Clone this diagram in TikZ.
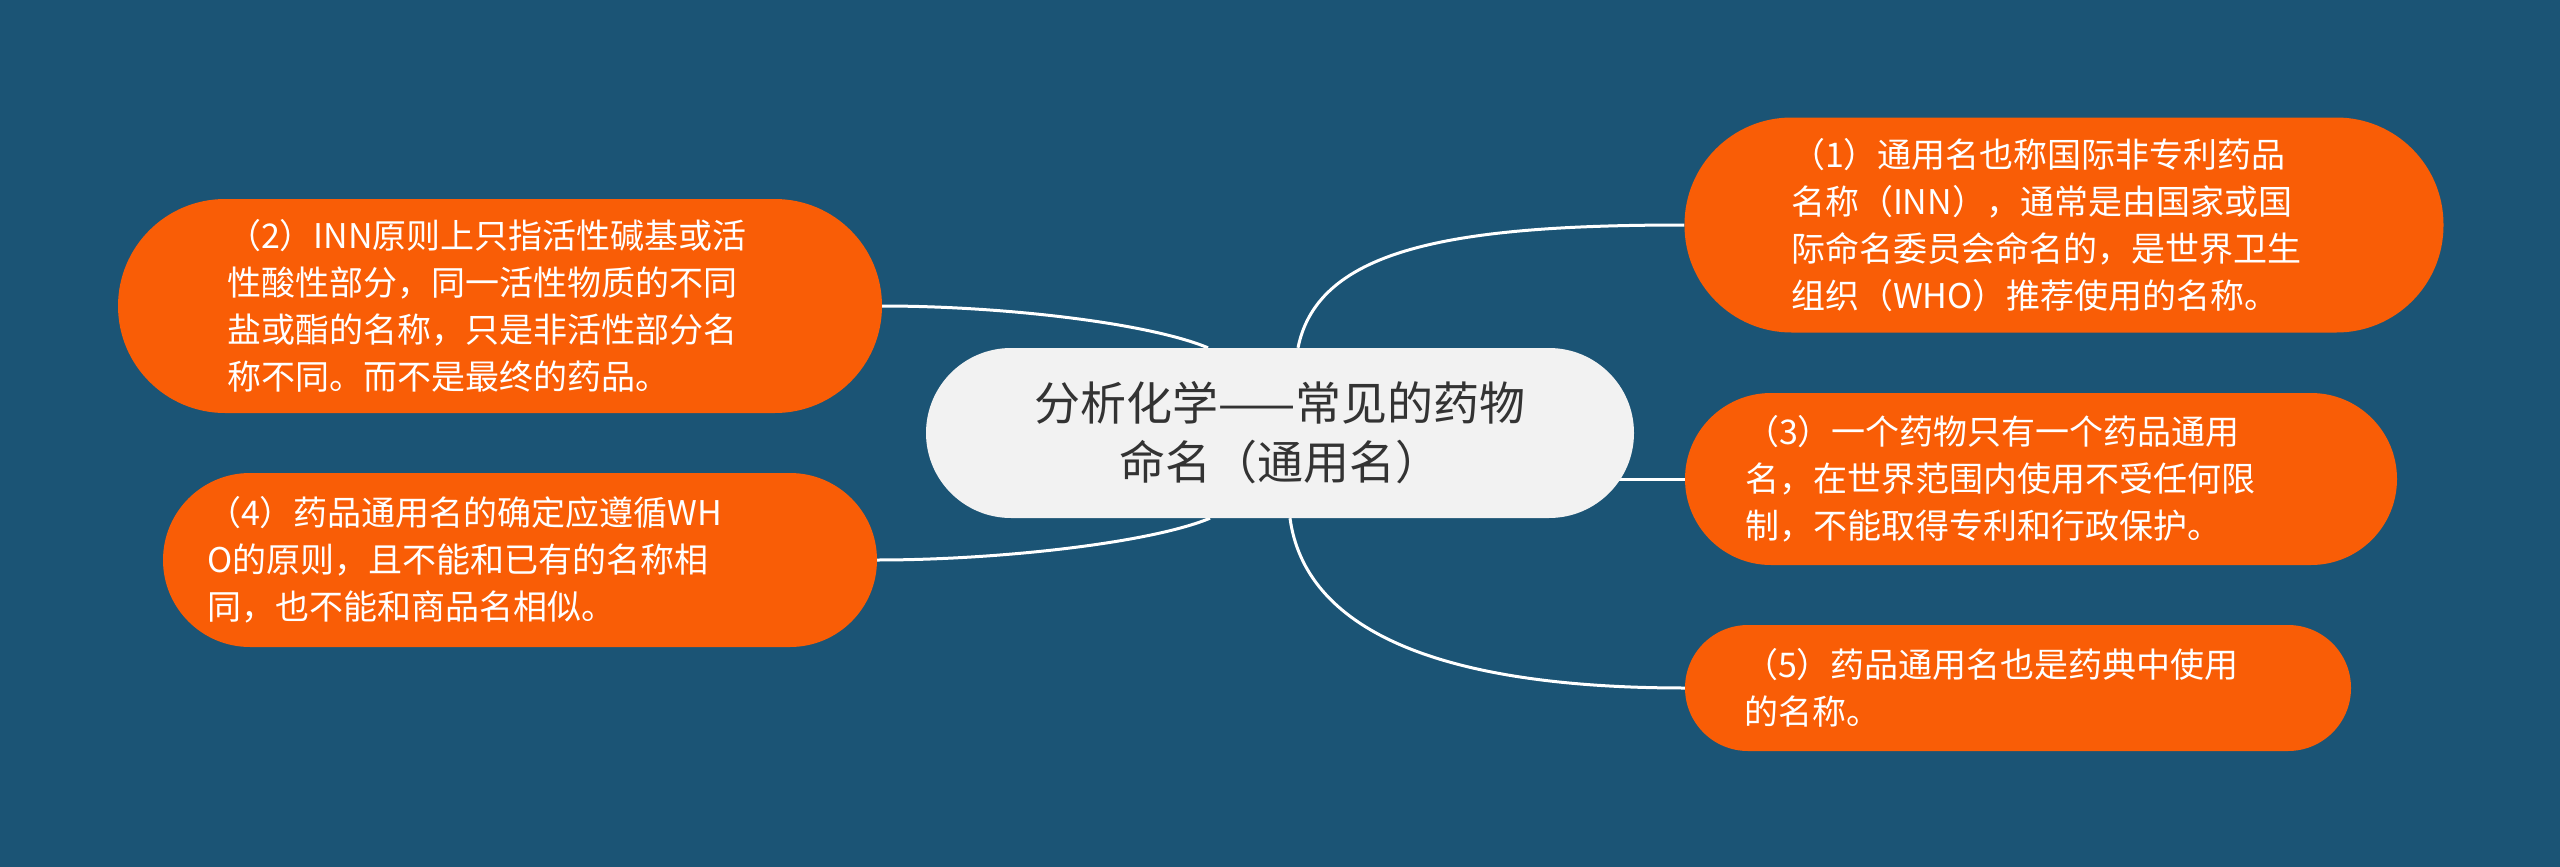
\documentclass[tikz,border=0pt]{standalone}
\usepackage{fontspec}
\setmainfont{Noto Sans CJK SC}
\definecolor{bgblue}{HTML}{1B5475}
\definecolor{leaforange}{HTML}{F95D06}
\definecolor{rootgray}{HTML}{F2F2F2}
\definecolor{roottext}{HTML}{333333}
\pgfdeclarelayer{back}
\pgfdeclarelayer{links}
\pgfsetlayers{back,links,main}

\begin{document}
\begin{tikzpicture}[x=1pt, y=-1pt,
  leaf/.style={rectangle, fill=leaforange, text=white, inner sep=0pt, align=left,
    font=\fontsize{34}{47}\selectfont},
  link/.style={draw=white, line width=3pt}]
  \useasboundingbox (0,0) rectangle (2560,867);
  \begin{pgfonlayer}{back}
    \fill[bgblue] (0,0) rectangle (2560,867);
  \end{pgfonlayer}

  % centre topic
  \node[rectangle, fill=rootgray, text=roottext, minimum width=708pt, minimum height=170pt,
    rounded corners=85pt, align=center, font=\fontsize{46}{59}\selectfont]
    (root) at (1280,433) {分析化学——常见的药物\\命名（通用名）};

  % left side
  \node[leaf, text width=546pt, minimum width=764pt, minimum height=214pt, rounded corners=107pt]
    (n2) at (500,306) {（2）INN原则上只指活性碱基或活\\性酸性部分，同一活性物质的不同\\盐或酯的名称，只是非活性部分名\\称不同。而不是最终的药品。};
  \node[leaf, text width=626pt, minimum width=714pt, minimum height=174pt, rounded corners=87pt]
    (n4) at (520,560) {（4）药品通用名的确定应遵循WH\\O的原则，且不能和已有的名称相\\同，也不能和商品名相似。};

  % right side
  \node[leaf, text width=546pt, minimum width=759pt, minimum height=215pt, rounded corners=107pt]
    (n1) at (2064,225) {（1）通用名也称国际非专利药品\\名称（INN），通常是由国家或国\\际命名委员会命名的，是世界卫生\\组织（WHO）推荐使用的名称。};
  \node[leaf, text width=592pt, minimum width=712pt, minimum height=172pt, rounded corners=86pt]
    (n3) at (2041,479) {（3）一个药物只有一个药品通用\\名，在世界范围内使用不受任何限\\制，不能取得专利和行政保护。};
  \node[leaf, text width=548pt, minimum width=666pt, minimum height=126pt, rounded corners=63pt]
    (n5) at (2018,688) {（5）药品通用名也是药典中使用\\的名称。};

  % connectors
  \begin{pgfonlayer}{links}
    \draw[link] ([xshift=18pt]root.north) .. controls +(20,-100) and +(-230,0) .. (n1.west);
    \draw[link] (root.center |- n3.west) -- (n3.west);
    \draw[link] ([xshift=10pt]root.south) .. controls +(15,110) and +(-250,0) .. (n5.west);
    \draw[link] ([xshift=-72pt]root.north) .. controls +(-60,-25) and +(120,0) .. (n2.east);
    \draw[link] ([xshift=-70pt]root.south) .. controls +(-60,25) and +(120,0) .. (n4.east);
  \end{pgfonlayer}
\end{tikzpicture}
\end{document}
